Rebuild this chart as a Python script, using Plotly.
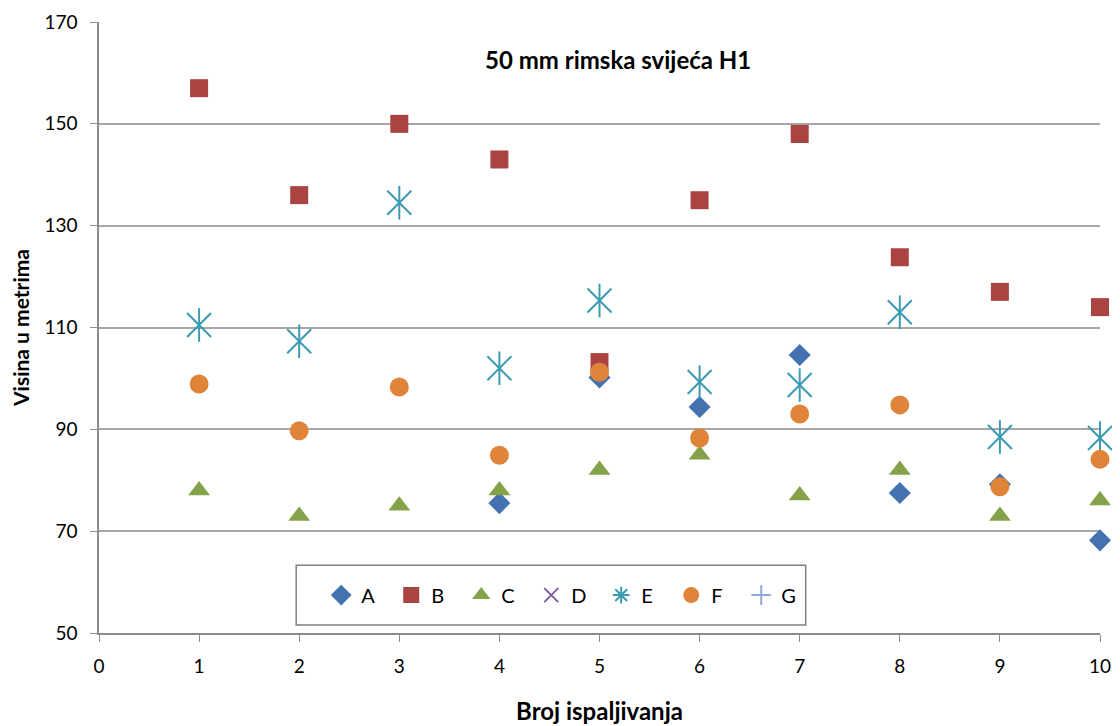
import plotly.graph_objects as go

shots = [1, 2, 3, 4, 5, 6, 7, 8, 9, 10]
A = [None, None, None, 75.5, 100.2, 94.4, 104.6, 77.5, 79.2, 68.2]
B = [157, 136, 150, 143, 103.2, 135, 148, 123.8, 117, 114]
C = [78, 73, 75, 78, 82, 85, 77, 82, 73, 76]
D = [None] * 10
E = [110.5, 107.3, 134.5, 102, 115.3, 99.3, 98.7, 113, 88.5, 88.3]
F = [98.9, 89.7, 98.3, 84.9, 101.2, 88.3, 93, 94.8, 78.7, 84.1]
G = [None] * 10

x_ticks = [0, 1, 2, 3, 4, 5, 6, 7, 8, 9, 10]
y_ticks = [50, 70, 90, 110, 130, 150, 170]

FONT = "Lato"
fig = go.Figure()

def add(name, y, symbol, color, size, show=True, group=None):
    open_ = symbol.endswith("open")
    marker = dict(symbol=symbol, size=size, color=color)
    if open_:
        marker["line"] = dict(color=color, width=2)
    else:
        marker["line"] = dict(width=0)
    fig.add_trace(go.Scatter(x=shots, y=y, mode="markers", name=name,
                             marker=marker, cliponaxis=False,
                             showlegend=show, legendgroup=group or name))

add("A", A, "diamond", "#4472B0", 17)
add("B", B, "square", "#AA4442", 18)
add("C", C, "triangle-up", "#84A24A", 19)
add("D", D, "x-thin-open", "#7E5EA0", 14)
# E: six-armed star drawn as X + vertical bar
add("E", E, "x-thin-open", "#3A9BB3", 24, show=False, group="E")
add("E", E, "line-ns-open", "#3A9BB3", 24, show=False, group="E")
add("E", [None] * 10, "asterisk-open", "#3A9BB3", 14, group="E")
add("F", F, "circle", "#E0843A", 19)
add("G", G, "cross-thin-open", "#8EA9DB", 14)

fig.update_layout(
    width=1120, height=726,
    margin=dict(l=91, r=28, t=14, b=101),
    paper_bgcolor="white", plot_bgcolor="white",
    font=dict(family=FONT, size=19, color="#000000"),
    xaxis=dict(range=[0, 10], tickvals=x_ticks, ticks="outside", ticklen=7,
               tickcolor="#8C8C8C", showline=True, linecolor="#8C8C8C", linewidth=1.5,
               showgrid=False, zeroline=False, automargin=False, ticklabelstandoff=8,
               title=dict(text="<b>Broj ispaljivanja</b>", font=dict(size=24), standoff=28)),
    yaxis=dict(range=[50, 170], tickvals=y_ticks, ticks="outside", ticklen=7,
               tickcolor="#8C8C8C", showline=True, linecolor="#8C8C8C", linewidth=1.5,
               showgrid=True, gridcolor="#A6A6A6", gridwidth=1.5, zeroline=False,
               automargin=False, ticklabelstandoff=9,
               title=dict(text="<b>Visina u metrima</b>", font=dict(size=21), standoff=19)),
    legend=dict(orientation="h", x=0.222, xanchor="left", y=0.062, yanchor="middle",
                bgcolor="rgba(0,0,0,0)", borderwidth=0, font=dict(size=20),
                entrywidth=25, itemsizing="trace"),
    annotations=[dict(text="<b>50 mm rimska svijeća H1</b>", x=0.518, y=0.965,
                      xref="paper", yref="paper", showarrow=False,
                      font=dict(size=24, family=FONT))],
    shapes=[dict(type="rect", xref="paper", yref="paper", x0=0.197, x1=0.706,
                 y0=0.013, y1=0.111, line=dict(color="#7F7F7F", width=1.5),
                 fillcolor="white", layer="below")],
)

fig.write_html("out.html")
